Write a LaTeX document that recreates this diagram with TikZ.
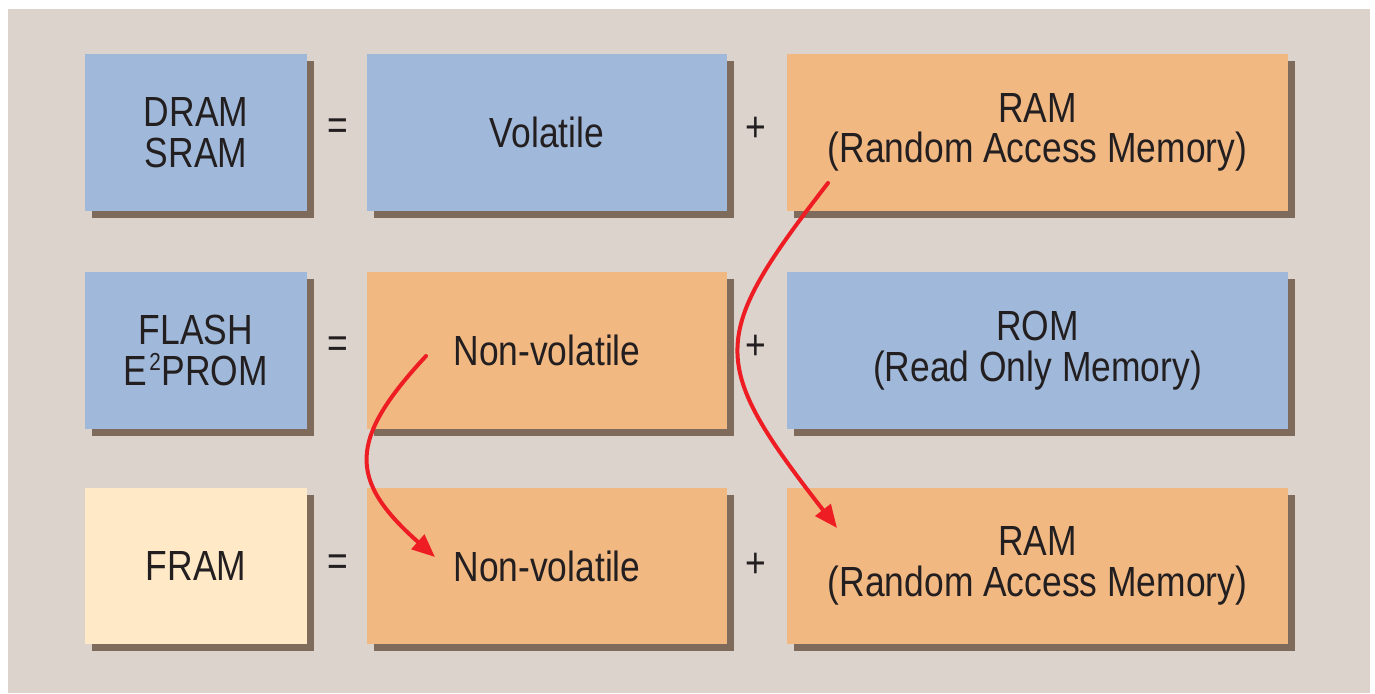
\documentclass[tikz,border=0pt]{standalone}
\usepackage{fontspec}
\setmainfont{Liberation Sans}[FakeStretch=0.84]
\usetikzlibrary{arrows.meta,shadows}
\definecolor{bgc}{HTML}{DCD3CD}
\definecolor{blueb}{HTML}{A0B9DA}
\definecolor{orangeb}{HTML}{F2B882}
\definecolor{yellowb}{HTML}{FFE9C6}
\definecolor{shadowc}{HTML}{7F6B5B}
\definecolor{arrowred}{HTML}{EE1D23}
\definecolor{ink}{HTML}{231F20}
\begin{document}
\begin{tikzpicture}[x=0.02cm, y=-0.02cm, font=\fontsize{24}{23}\selectfont, line join=round, line cap=round,
	box/.style={minimum height=3.14cm, inner sep=0pt, align=center, text=ink,
		drop shadow={shadow xshift=0.14cm, shadow yshift=-0.14cm, fill=shadowc, opacity=1}},
	small/.style={box, minimum width=4.44cm},
	mid/.style={box, minimum width=7.2cm},
	wide/.style={box, minimum width=10.02cm},
	sign/.style={text=ink, inner sep=0pt},
	link/.style={draw=arrowred, line width=0.08cm, -{Triangle[length=0.46cm,width=0.38cm]}}]
	\useasboundingbox (0,0) rectangle (1375,693);
	\fill[bgc] (8,9) rectangle (1370,693);
	% row 1
	\node[small, fill=blueb] (dram) at (196,132.5) {DRAM\\SRAM};
	\node[mid, fill=blueb] (vol) at (547,132.5) {Volatile};
	\node[wide, fill=orangeb] (ramA) at (1037.5,132.5) {RAM\\(Random Access Memory)};
	% row 2
	\node[small, fill=blueb] (flash) at (196,350.5) {FLASH\\E\kern1pt\raisebox{0.36em}{\fontsize{14}{14}\selectfont 2}\kern0.5ptPROM};
	\node[mid, fill=orangeb] (nvA) at (547,350.5) {Non-volatile};
	\node[wide, fill=blueb] (rom) at (1037.5,350.5) {ROM\\(Read Only Memory)};
	% row 3
	\node[small, fill=yellowb] (fram) at (196,566) {FRAM};
	\node[mid, fill=orangeb] (nvB) at (547,566) {Non-volatile};
	\node[wide, fill=orangeb] (ramB) at (1037.5,566) {RAM\\(Random Access Memory)};
	\foreach \i/\y in {1/129,2/347,3/565}{
		\node[sign] (eq\i) at (338,\y) {=};
		\node[sign] (pl\i) at (756,\y) {+};}
	% arrows
	\coordinate (fromram) at (828,183);
	\coordinate (toram) at (837,528);
	\coordinate (fromnv) at (426,356);
	\coordinate (tonv) at (435,557);
	\draw[link] (fromram) .. controls (708,338) and (708,362) .. (toram);
	\draw[link] (fromnv) .. controls (348,440) and (348,480) .. (tonv);
\end{tikzpicture}
\end{document}
